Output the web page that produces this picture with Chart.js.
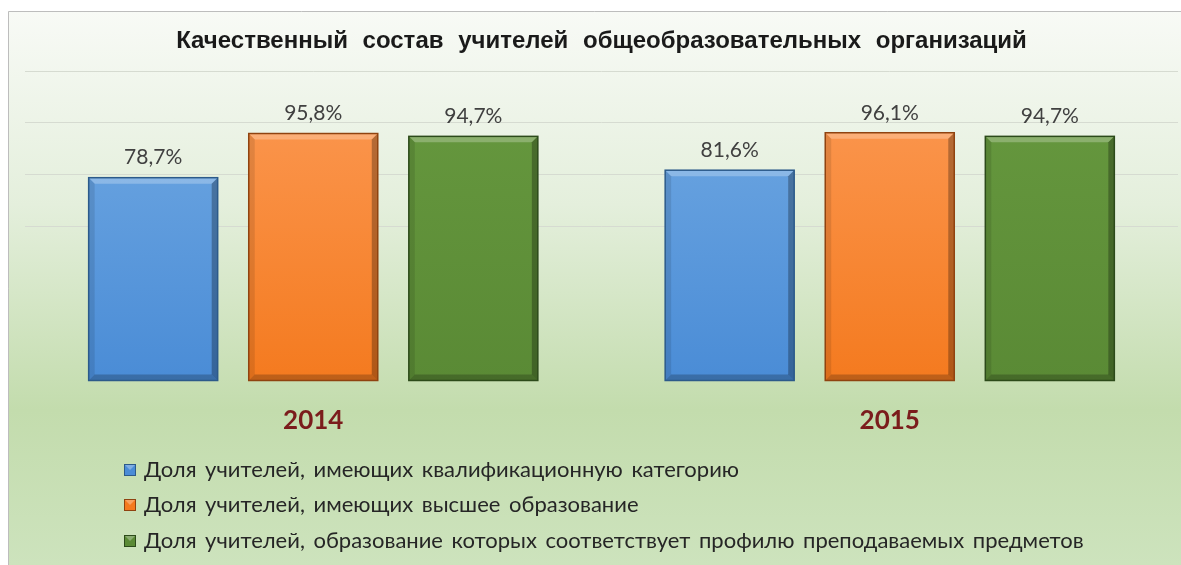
<!DOCTYPE html>
<html><head><meta charset="utf-8">
<script src="https://cdn.jsdelivr.net/npm/chart.js@4"></script>
<style>html,body{margin:0;padding:0;background:#fff;overflow:hidden}#wrap{position:relative;width:1181px;height:565px}</style>
</head><body><div id="wrap"><canvas id="c" width="1181" height="565"></canvas></div>
<script>
const chartTitle = 'Качественный состав учителей общеобразовательных организаций';
const categories = ['2014', '2015'];
const seriesLabels = [
  'Доля учителей, имеющих квалификационную категорию',
  'Доля учителей, имеющих высшее образование',
  'Доля учителей, образование которых соответствует профилю преподаваемых предметов'
];
const qualCategory = [78.7, 81.6];
const higherEdu = [95.8, 96.1];
const profileMatch = [94.7, 94.7];
const yMin = 0, yMax = 120, yStep = 20;

const palette = [
  {top:'#72aae3', bottom:'#4a8cd6', edge:'#2c5a8a'},
  {top:'#fc9a55', bottom:'#f47a1f', edge:'#8f4310'},
  {top:'#67993f', bottom:'#5a8a35', edge:'#2c4a1a'}
];

function grad(i){
  return (ctx) => {
    const a = ctx.chart.chartArea;
    if (!a) return palette[i].bottom;
    const g = ctx.chart.ctx.createLinearGradient(0, a.top, 0, a.bottom);
    g.addColorStop(0, palette[i].top);
    g.addColorStop(1, palette[i].bottom);
    return g;
  };
}

const bgPlugin = {
  id: 'bg',
  beforeDraw(chart){
    const c = chart.ctx, W = chart.width, H = chart.height;
    c.save();
    const g = c.createLinearGradient(0, 11, 0, H);
    g.addColorStop(0, '#f8faf6');
    g.addColorStop(0.35, '#e4efdc');
    g.addColorStop(0.72, '#c3dcad');
    g.addColorStop(1, '#cde3bd');
    c.fillStyle = g;
    c.fillRect(8, 11, W - 8, H - 11);
    c.strokeStyle = '#bdbdbd';
    c.lineWidth = 1;
    c.beginPath();
    c.moveTo(8.5, H); c.lineTo(8.5, 11.5); c.lineTo(W, 11.5);
    c.stroke();
    c.restore();
    c.wordSpacing = '8px';
  },
  beforeDatasetsDraw(chart){
    chart.ctx.wordSpacing = '0px';
  }
};

const barDeco = {
  id: 'barDeco',
  afterDatasetsDraw(chart){
    const c = chart.ctx;
    c.save();
    chart.data.datasets.forEach((ds, di) => {
      const meta = chart.getDatasetMeta(di);
      meta.data.forEach((el, i) => {
        const p = el.getProps(['x','y','base','width'], true);
        const l = p.x - p.width/2, r = p.x + p.width/2, t = p.y, b = p.base, k = 6;
        c.fillStyle = 'rgba(255,255,255,0.25)';
        c.beginPath(); c.moveTo(l,t); c.lineTo(r,t); c.lineTo(r-k,t+k); c.lineTo(l+k,t+k); c.closePath(); c.fill();
        c.fillStyle = 'rgba(0,0,0,0.28)';
        c.beginPath(); c.moveTo(r,t); c.lineTo(r,b); c.lineTo(r-k,b-k); c.lineTo(r-k,t+k); c.closePath(); c.fill();
        c.fillStyle = 'rgba(0,0,0,0.10)';
        c.beginPath(); c.moveTo(l,t); c.lineTo(l+k,t+k); c.lineTo(l+k,b-k); c.lineTo(l,b); c.closePath(); c.fill();
        c.fillStyle = 'rgba(0,0,0,0.22)';
        c.beginPath(); c.moveTo(l,b); c.lineTo(l+k,b-k); c.lineTo(r-k,b-k); c.lineTo(r,b); c.closePath(); c.fill();
        c.strokeStyle = palette[di].edge;
        c.lineWidth = 1.5;
        c.strokeRect(l, t, p.width, b - t);
        c.fillStyle = '#404040';
        c.font = '21px Lato';
        c.textAlign = 'center';
        c.textBaseline = 'middle';
        const v = ds.data[i];
        c.fillText(v.toFixed(1).replace('.', ',') + '%', p.x, t - 20);
      });
    });
    c.restore();
  }
};

const legendPlugin = {
  id: 'customLegend',
  afterDraw(chart){
    const c = chart.ctx;
    c.save();
    const rows = [470, 505, 541];
    chart.data.datasets.forEach((ds, di) => {
      const y = rows[di];
      const x0 = 124, s = 12;
      c.fillStyle = palette[di].bottom;
      c.fillRect(x0, y - s/2, s, s);
      c.fillStyle = 'rgba(255,255,255,0.3)';
      c.beginPath(); c.moveTo(x0, y - s/2); c.lineTo(x0+s, y - s/2); c.lineTo(x0+s/2, y); c.closePath(); c.fill();
      c.strokeStyle = palette[di].edge; c.lineWidth = 1;
      c.strokeRect(x0 + 0.5, y - s/2 + 0.5, s - 1, s - 1);
      c.fillStyle = '#262626';
      c.font = '22px Lato';
      c.wordSpacing = '3px';
      c.textAlign = 'left';
      c.textBaseline = 'middle';
      c.fillText(ds.label, 144, y);
    });
    c.restore();
  }
};

new Chart(document.getElementById('c'), {
  type: 'bar',
  data: {
    labels: categories,
    datasets: [
      {label: seriesLabels[0], data: qualCategory, backgroundColor: grad(0), borderWidth: 0},
      {label: seriesLabels[1], data: higherEdu, backgroundColor: grad(1), borderWidth: 0},
      {label: seriesLabels[2], data: profileMatch, backgroundColor: grad(2), borderWidth: 0}
    ]
  },
  options: {
    responsive: false,
    animation: false,
    devicePixelRatio: 1,
    layout: {padding: {left: 25, right: 3, top: 0, bottom: 0}},
    datasets: {bar: {categoryPercentage: 0.833, barPercentage: 0.806}},
    plugins: {
      legend: {display: false},
      tooltip: {enabled: false},
      title: {
        display: true,
        text: chartTitle,
        color: '#1a1a1a',
        font: {family: 'Liberation Sans', weight: 'bold', size: 24, lineHeight: 1.2},
        padding: {top: 26.6, bottom: 15.6}
      }
    },
    scales: {
      x: {
        grid: {display: false, drawTicks: false},
        border: {display: false},
        ticks: {color: '#7b1c1c', font: {family: 'Lato', weight: 'bold', size: 26, lineHeight: 1.2}, padding: 24.4},
        afterFit(s){ s.height = 184; }
      },
      y: {
        min: yMin, max: yMax,
        ticks: {display: false, stepSize: yStep},
        border: {display: false},
        grid: {drawTicks: false, color: (ctx) => (ctx.tick && ctx.tick.value >= 60) ? '#d6dbd1' : 'rgba(0,0,0,0)'},
        afterFit(s){ s.width = 0; }
      }
    }
  },
  plugins: [bgPlugin, barDeco, legendPlugin]
});
</script>
</body></html>
